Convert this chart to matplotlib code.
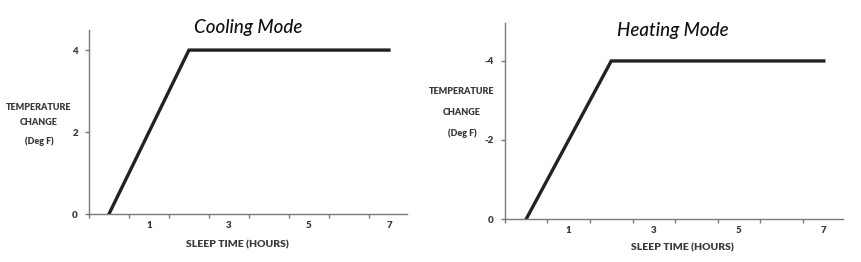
import matplotlib
matplotlib.use("Agg")
import matplotlib.pyplot as plt

plt.rcParams['font.family'] = ['Lato', 'DejaVu Sans']

# sleep hours and temperature offset (deg F)
hours = [0, 1, 2, 3, 4, 5, 6, 7]
cooling = [0, 2, 4, 4, 4, 4, 4, 4]
heating = [0, -2, -4, -4, -4, -4, -4, -4]

x_ticks = [-0.5, 0.5, 1.5, 2.5, 3.5, 4.5, 5.5, 6.5]
x_labels = ['1', '3', '5', '7']
x_label_pos = [1, 3, 5, 7]

cool_yticks = [0, 2, 4]
cool_ylabels = ['0', '2', '4']
heat_yticks = [0, -2, -4]
heat_ylabels = ['0', '-2', '-4']

line_col = '#222222'
axis_col = '#7a7a7a'
text_col = '#3a3a3a'
small_w = 'heavy'

fig = plt.figure(figsize=(8.62, 2.62), dpi=100)
ax1 = fig.add_axes([0.1032, 0.1832, 0.3689, 0.7023])
ax2 = fig.add_axes([0.5858, 0.1641, 0.3921, 0.7480])


def style_axes(ax, yticks, ylabels):
    for s in ['top', 'right']:
        ax.spines[s].set_visible(False)
    for s in ['left', 'bottom']:
        ax.spines[s].set_color(axis_col)
        ax.spines[s].set_linewidth(1.0)
    ax.set_xticks(x_ticks)
    ax.set_xticklabels([])
    ax.set_xticks(x_label_pos, minor=True)
    ax.set_xticklabels(x_labels, minor=True)
    ax.tick_params(axis='x', which='major', length=3, color=axis_col, width=1)
    ax.tick_params(axis='x', which='minor', length=0, pad=5,
                   labelsize=7, labelcolor=text_col)
    ax.set_yticks(yticks)
    ax.set_yticklabels(ylabels)
    ax.tick_params(axis='y', length=3, color=axis_col, width=1, pad=5,
                   labelsize=7, labelcolor=text_col)
    for t in ax.get_xticklabels(minor=True) + ax.get_yticklabels():
        t.set_fontweight(small_w)
    ax.set_xlim(-0.5, 7.45)


def small(x, y, s, size=6.5):
    fig.text(x, y, s, ha='center', va='center', fontsize=size,
             fontweight=small_w, color=text_col)


# Cooling mode
ax1.plot(hours, cooling, color=line_col, linewidth=2.4, solid_joinstyle='miter')
ax1.set_ylim(0, 4.49)
style_axes(ax1, cool_yticks, cool_ylabels)
fig.text(0.2877, 0.895, 'Cooling Mode', ha='center', va='center',
         fontsize=13.5, style='italic', fontweight='medium', color='#111111')
small(0.0452, 0.588, 'TEMPERATURE')
small(0.0452, 0.534, 'CHANGE')
small(0.0452, 0.462, '(Deg F)')
small(0.2749, 0.065, 'SLEEP TIME (HOURS)', 7.5)

# Heating mode
ax2.plot(hours, heating, color=line_col, linewidth=2.4, solid_joinstyle='miter')
ax2.set_ylim(0, -4.96)
style_axes(ax2, heat_yticks, heat_ylabels)
fig.text(0.7807, 0.882, 'Heating Mode', ha='center', va='center',
         fontsize=13.5, style='italic', fontweight='medium', color='#111111')
small(0.536, 0.652, 'TEMPERATURE')
small(0.536, 0.572, 'CHANGE')
small(0.536, 0.492, '(Deg F)')
small(0.7912, 0.053, 'SLEEP TIME (HOURS)', 7.5)

fig.savefig('out.png', dpi=100, facecolor='white')
